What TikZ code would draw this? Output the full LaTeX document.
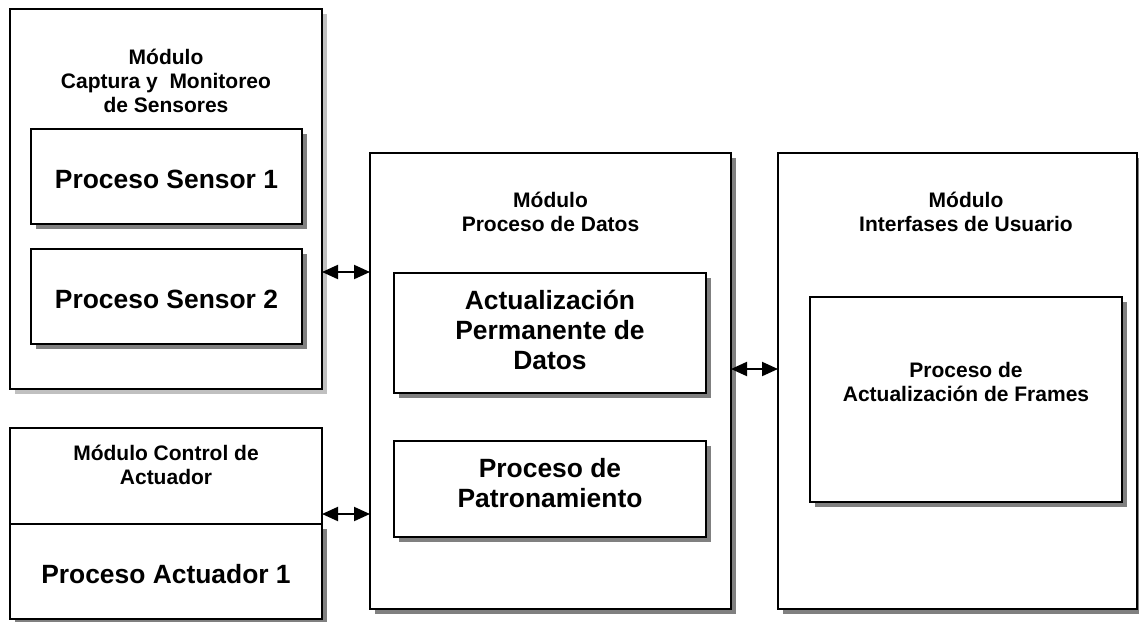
\documentclass[tikz,border=0pt]{standalone}
\usepackage{fontspec}
\setmainfont{Liberation Sans}
\usetikzlibrary{shadows,arrows.meta}
\definecolor{shdark}{RGB}{128,128,128}
\definecolor{shlight}{RGB}{192,192,192}
\begin{document}
\begin{tikzpicture}[x=1pt,y=-1pt,
  box/.style={draw, line width=2pt, fill=white, outer sep=0pt, inner sep=0pt, anchor=north west},
  dsh/.style={drop shadow={shadow xshift=5pt, shadow yshift=-5pt, fill=shdark, opacity=1}},
  lsh/.style={drop shadow={shadow xshift=5pt, shadow yshift=-5pt, fill=shlight, opacity=1}},
  ttl/.style={font=\bfseries\fontsize{21}{24}\selectfont, align=center, anchor=base, inner sep=0pt},
  big/.style={font=\bfseries\fontsize{26.4}{30}\selectfont, align=center, anchor=base, inner sep=0pt},
  conn/.style={line width=2pt, {Triangle[length=16pt,width=14pt]}-{Triangle[length=16pt,width=14pt]}}
]
\useasboundingbox[fill=white] (0,0) rectangle (1139,621);

% capture module
\node[box, lsh, minimum width=312pt, minimum height=380pt] (cap) at (10,9) {};
\node[ttl] (capT) at (166,112) {Módulo\\Captura y~ Monitoreo\\de Sensores};
\node[box, dsh, minimum width=271pt, minimum height=95pt] (s1) at (31,129) {};
\node[big] (s1T) at (166.5,188) {Proceso Sensor 1};
\node[box, dsh, minimum width=271pt, minimum height=95pt] (s2) at (31,249) {};
\node[big] (s2T) at (166.5,308) {Proceso Sensor 2};

% actuator module
\node[box, minimum width=312pt, minimum height=96pt] (act) at (10,428) {};
\node[ttl] (actT) at (166,484) {Módulo Control de\\Actuador};
\node[box, dsh, minimum width=312pt, minimum height=95pt] (a1) at (10,524) {};
\node[big] (a1T) at (166,583) {Proceso Actuador 1};

% data module
\node[box, dsh, minimum width=361pt, minimum height=456pt] (dat) at (370,153) {};
\node[ttl] (datT) at (550.5,231) {Módulo\\Proceso de Datos};
\node[box, dsh, minimum width=312pt, minimum height=120pt] (upd) at (394,273) {};
\node[big] (updT) at (550,369) {Actualización\\Permanente de\\Datos};
\node[box, dsh, minimum width=312pt, minimum height=96pt] (pat) at (394,441) {};
\node[big] (patT) at (550,507) {Proceso de\\Patronamiento};

% interface module
\node[box, dsh, minimum width=359pt, minimum height=456pt] (ui) at (778,153) {};
\node[ttl] (uiT) at (966,231) {Módulo\\Interfases de Usuario};
\node[box, dsh, minimum width=312pt, minimum height=205pt] (fr) at (810,297) {};
\node[ttl] (frT) at (966,401) {Proceso de\\Actualización de Frames};

% connectors
\draw[conn] (cap.east |- 0,272) -- (dat.west |- 0,272);
\draw[conn] (act.east |- 0,514) -- (dat.west |- 0,514);
\draw[conn] (dat.east |- 0,369) -- (ui.west |- 0,369);
\end{tikzpicture}
\end{document}
